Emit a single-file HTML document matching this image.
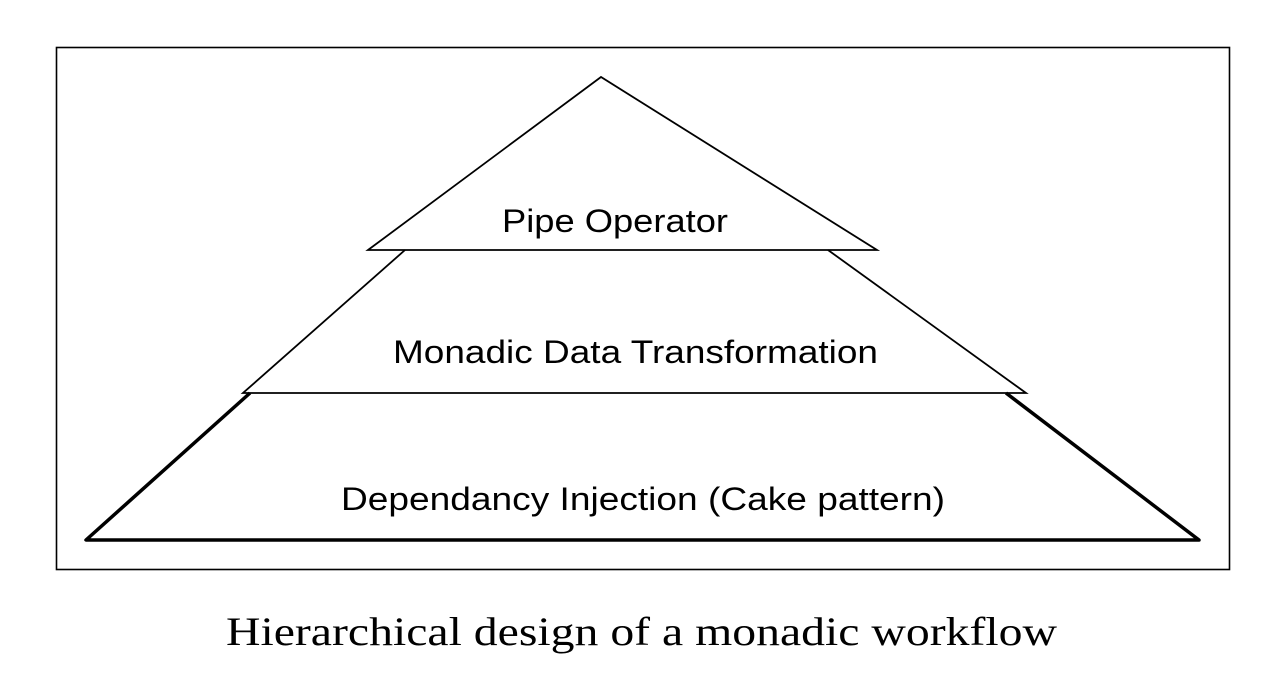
<!DOCTYPE html>
<html><head><style>html,body{margin:0;padding:0;background:#fff;}</style></head>
<body>
<svg width="1280" height="694" viewBox="0 0 1280 694" xmlns="http://www.w3.org/2000/svg">
<rect x="56.5" y="47.5" width="1173" height="522" fill="none" stroke="#000" stroke-width="1.6"/>
<polyline points="250,393 86,540 1199,540 1006,393" fill="none" stroke="#000" stroke-width="3.5" stroke-linejoin="round"/>
<polyline points="405,250 243,393 1026,393 828,250" fill="none" stroke="#000" stroke-width="1.8"/>
<polygon points="601,77 368,250 877,250" fill="none" stroke="#000" stroke-width="1.8"/>
<g font-family="Liberation Sans, sans-serif" font-size="32" fill="#000" lengthAdjust="spacingAndGlyphs">
<text x="502" y="232" textLength="226" lengthAdjust="spacingAndGlyphs">Pipe Operator</text>
<text x="393" y="363" textLength="485" lengthAdjust="spacingAndGlyphs">Monadic Data Transformation</text>
<text x="341" y="510" textLength="604" lengthAdjust="spacingAndGlyphs">Dependancy Injection (Cake pattern)</text>
</g>
<text x="226" y="645" font-family="Liberation Serif, serif" font-size="40" textLength="831" lengthAdjust="spacingAndGlyphs" fill="#000">Hierarchical design of a monadic workflow</text>
</svg>
</body></html>
